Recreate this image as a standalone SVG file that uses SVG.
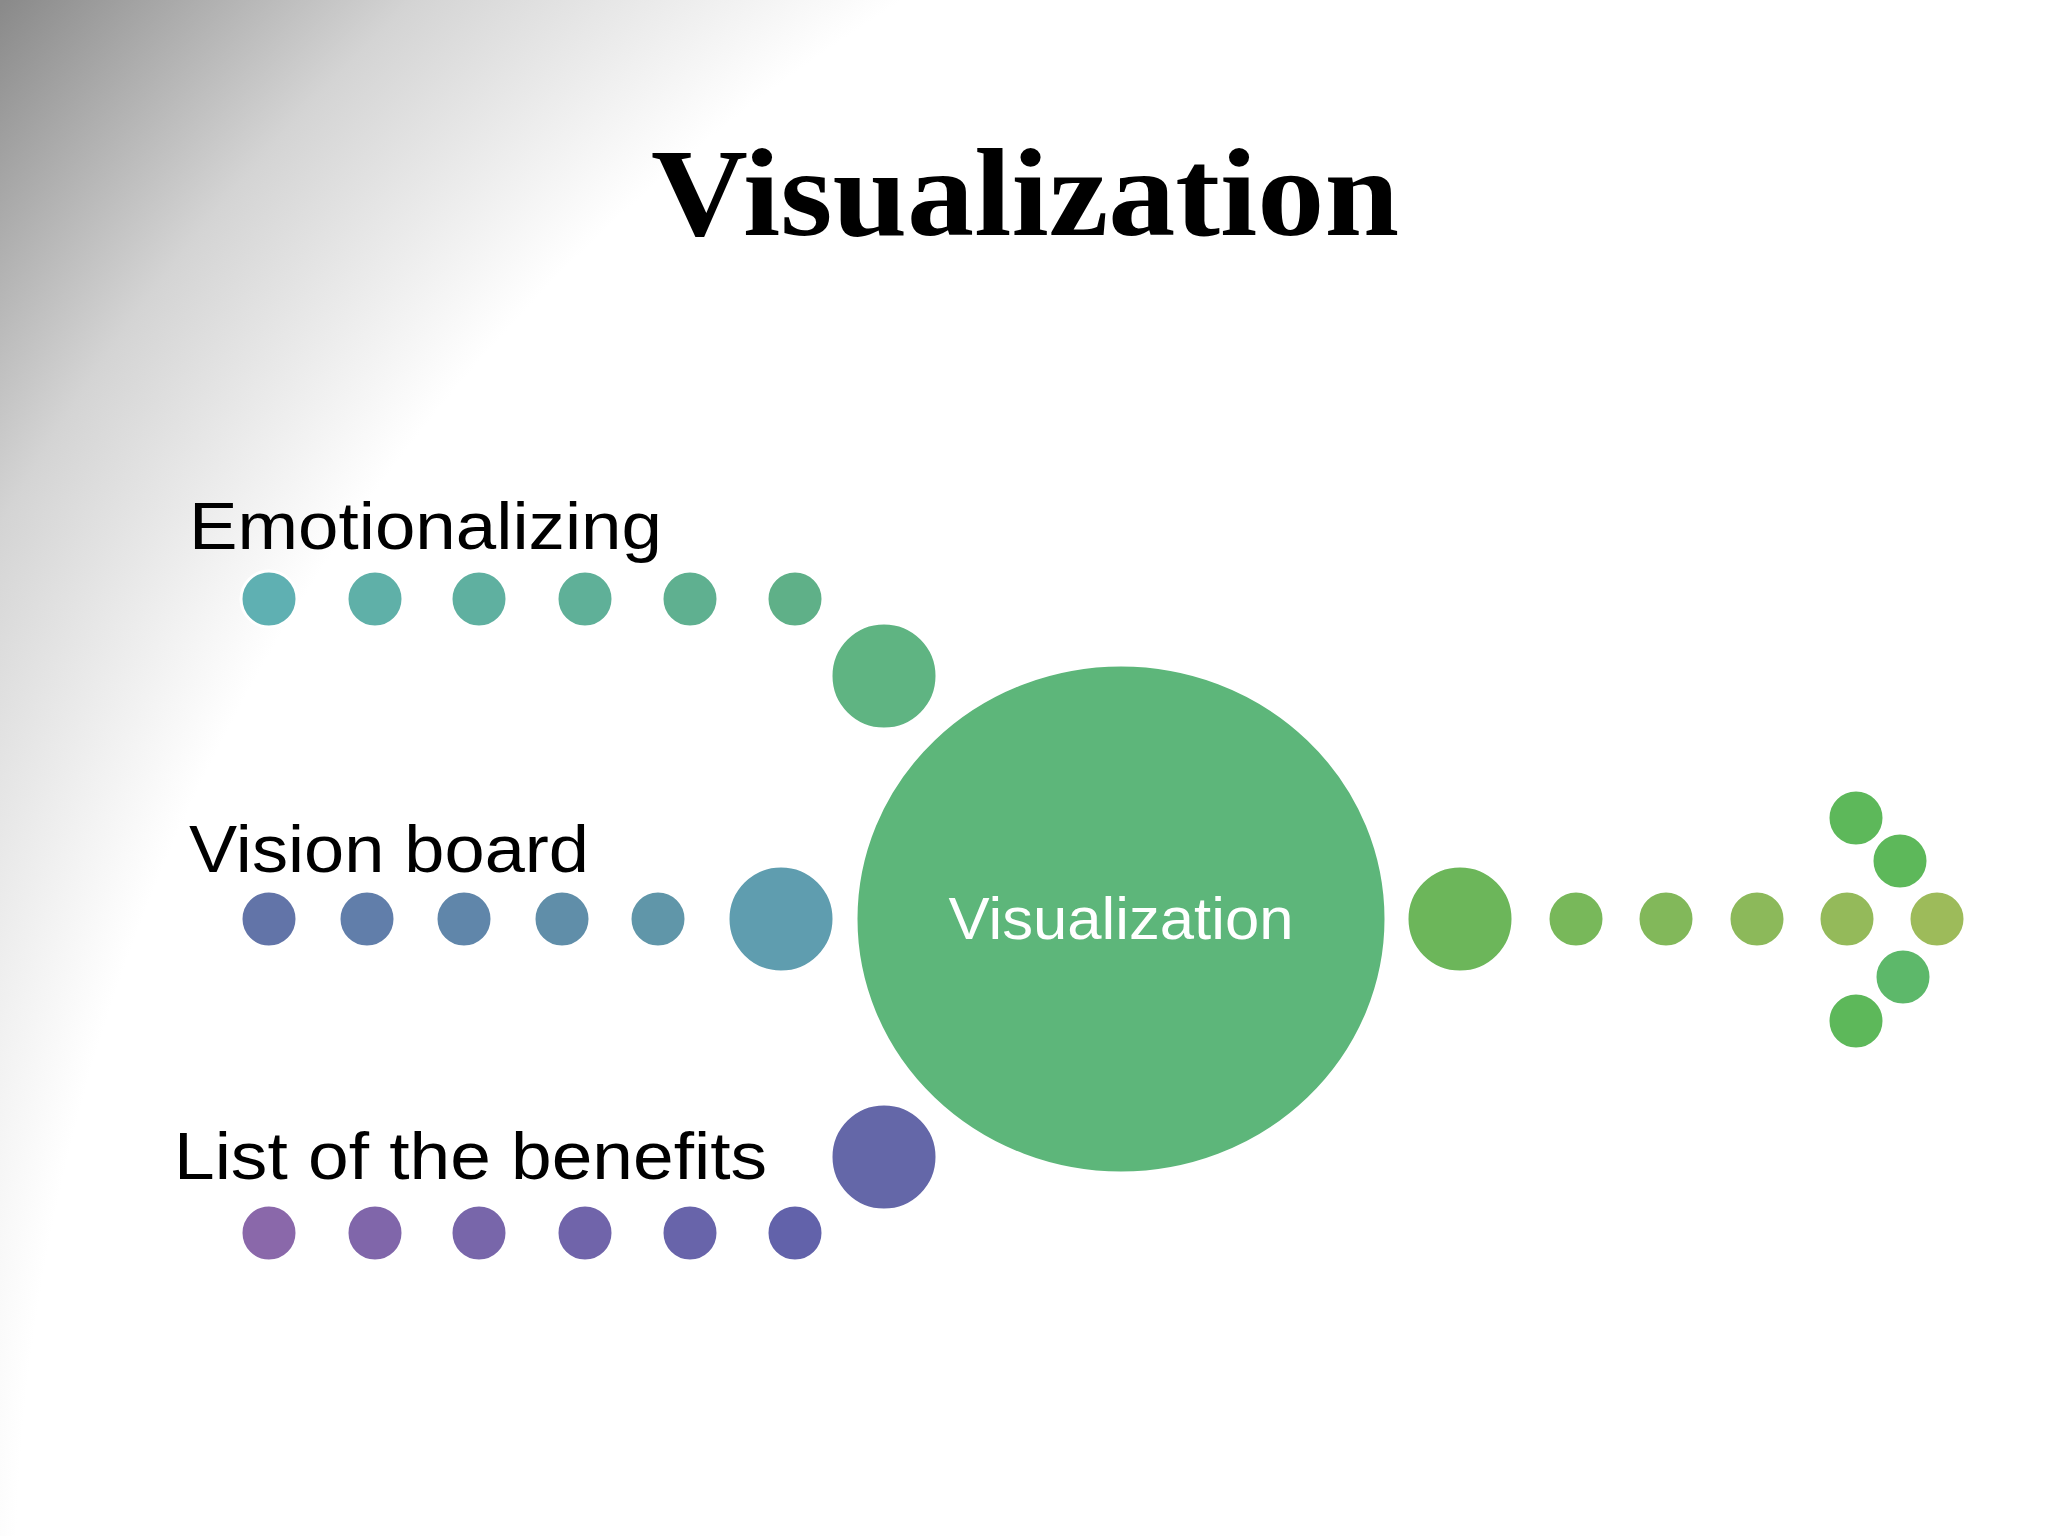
<svg xmlns="http://www.w3.org/2000/svg" width="2048" height="1536" viewBox="0 0 2048 1536">
<defs>
<radialGradient id="bg" cx="1900" cy="1600" r="2480" gradientUnits="userSpaceOnUse">
<stop offset="0" stop-color="#fff"/><stop offset="0.76" stop-color="#fff"/><stop offset="0.88" stop-color="#d4d4d4"/><stop offset="1" stop-color="#8a8a8a"/>
</radialGradient>
<style>
.lbl{font-family:"Liberation Sans",Arial,sans-serif;font-size:66px;fill:#000}
.d{stroke:#fff;stroke-width:3}
</style>
</defs>
<rect width="2048" height="1536" fill="url(#bg)"/>
<text x="1025" y="235" text-anchor="middle" font-family="Liberation Serif,serif" font-weight="bold" font-size="124" fill="#000" textLength="748" lengthAdjust="spacingAndGlyphs">Visualization</text>
<g id="emotionalizing">
<text class="lbl" x="189" y="549" textLength="473" lengthAdjust="spacingAndGlyphs">Emotionalizing</text>
<circle class="d" cx="269" cy="599" r="28" fill="#5fb0b2"/><circle class="d" cx="375" cy="599" r="28" fill="#5fb0a8"/><circle class="d" cx="479" cy="599" r="28" fill="#5fb0a0"/><circle class="d" cx="585" cy="599" r="28" fill="#5fb098"/><circle class="d" cx="690" cy="599" r="28" fill="#5fb090"/><circle class="d" cx="795" cy="599" r="28" fill="#5fb088"/>
<circle class="d" cx="884" cy="676" r="53" fill="#5fb482"/>
</g>
<g id="vision-board">
<text class="lbl" x="189" y="872" textLength="400" lengthAdjust="spacingAndGlyphs">Vision board</text>
<circle class="d" cx="269" cy="919" r="28" fill="#6274a8"/><circle class="d" cx="367" cy="919" r="28" fill="#617eaa"/><circle class="d" cx="464" cy="919" r="28" fill="#6086aa"/><circle class="d" cx="562" cy="919" r="28" fill="#608ea9"/><circle class="d" cx="658" cy="919" r="28" fill="#6096a9"/>
<circle class="d" cx="781" cy="919" r="53" fill="#5f9daf"/>
</g>
<g id="benefits">
<text class="lbl" x="174" y="1179" textLength="593" lengthAdjust="spacingAndGlyphs">List of the benefits</text>
<circle class="d" cx="269" cy="1233" r="28" fill="#8a68aa"/><circle class="d" cx="375" cy="1233" r="28" fill="#8066aa"/><circle class="d" cx="479" cy="1233" r="28" fill="#7866aa"/><circle class="d" cx="585" cy="1233" r="28" fill="#7064aa"/><circle class="d" cx="690" cy="1233" r="28" fill="#6864aa"/><circle class="d" cx="795" cy="1233" r="28" fill="#6262aa"/>
<circle class="d" cx="884" cy="1157" r="53" fill="#6467a8"/>
</g>
<g id="center">
<ellipse class="d" cx="1121" cy="919" rx="265" ry="254" fill="#5db67a"/>
<text x="1121" y="939" text-anchor="middle" font-family="Liberation Sans,Arial,sans-serif" font-size="60" fill="#fff" textLength="345" lengthAdjust="spacingAndGlyphs">Visualization</text>
</g>
<g id="arrow">
<circle class="d" cx="1460" cy="919" r="53" fill="#6cb65a"/>
<circle class="d" cx="1576" cy="919" r="28" fill="#78b85a"/><circle class="d" cx="1666" cy="919" r="28" fill="#82b85a"/><circle class="d" cx="1757" cy="919" r="28" fill="#8cb95a"/>
<circle class="d" cx="1847" cy="919" r="28" fill="#94ba5a"/><circle class="d" cx="1937" cy="919" r="28" fill="#9dbb5a"/>
<circle class="d" cx="1900" cy="861" r="28" fill="#5db85a"/><circle class="d" cx="1856" cy="818" r="28" fill="#5db85a"/>
<circle class="d" cx="1903" cy="977" r="28" fill="#5db86a"/><circle class="d" cx="1856" cy="1021" r="28" fill="#5db85a"/>
</g>
<g id="connectors"></g>
</svg>
